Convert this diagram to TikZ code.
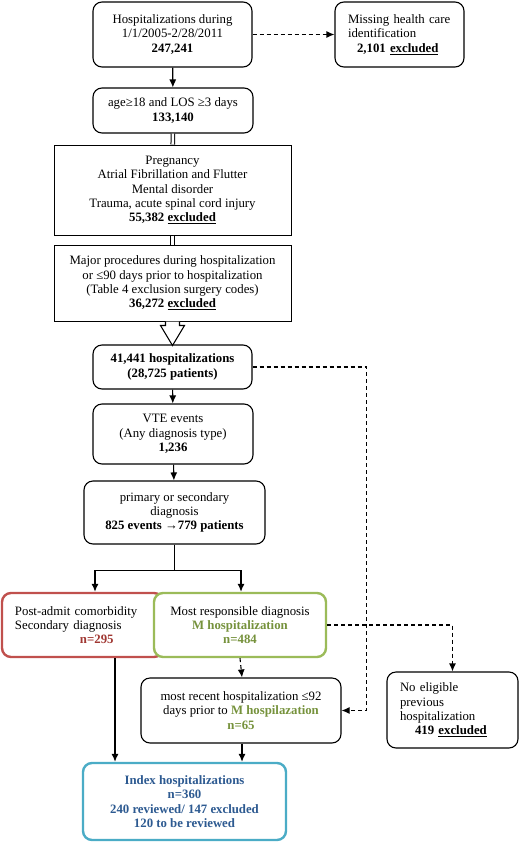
\documentclass[tikz,border=0pt]{standalone}
\usepackage{fontspec}
\setmainfont{Liberation Serif}
\usetikzlibrary{arrows.meta}
\definecolor{boxred}{RGB}{192,80,77}
\definecolor{textred}{RGB}{160,55,50}
\definecolor{boxgreen}{RGB}{155,187,89}
\definecolor{textgreen}{RGB}{118,146,60}
\definecolor{boxblue}{RGB}{75,172,198}
\definecolor{textblue}{RGB}{45,90,145}
\newcommand{\excl}{\underline{\textbf{excluded}}}

\begin{document}
\begin{tikzpicture}[x=1pt,y=-1pt,font=\fontsize{12.8}{14.3}\selectfont,
	box/.style={draw,line width=1.1pt,rounded corners=9pt,align=center,inner sep=0pt},
	sharpbox/.style={draw,line width=1pt,align=center,inner sep=0pt},
	colbox/.style={box,line width=2.4pt,fill=white},
	arr/.style={line width=1.1pt,-{Latex[length=8pt,width=7pt]}},
	dasharr/.style={arr,dash pattern=on 4pt off 3pt},
	twin/.style={line width=1pt,double,double distance=2.6pt}]
	\useasboundingbox (0,0) rectangle (520,844);
	\node[box,minimum width=159pt,minimum height=65pt] (hosp) at (172.5,34.5) {Hospitalizations during\\1/1/2005-2/28/2011\\\textbf{247,241}};
	\node[box,minimum width=129pt,minimum height=65pt,text width=103pt,align=left] (missing) at (399.5,34.5) {Missing health care\\identification\\\hspace*{9pt}\textbf{2,101} \excl};
	\node[box,minimum width=160pt,minimum height=45pt] (age) at (173,110.5) {age≥18 and LOS ≥3 days\\\textbf{133,140}};
	\node[sharpbox,minimum width=237pt,minimum height=90pt] (preg) at (172.5,190) {Pregnancy\\Atrial Fibrillation and Flutter\\Mental disorder\\Trauma, acute spinal cord injury\\\textbf{55,382} \excl};
	\node[sharpbox,minimum width=237pt,minimum height=76pt] (major) at (172.5,283) {Major procedures during hospitalization\\or ≤90 days prior to hospitalization\\(Table 4 exclusion surgery codes)\\\textbf{36,272} \excl};
	\node[box,minimum width=159pt,minimum height=44pt,font=\fontsize{12.8}{14.3}\selectfont\bfseries] (total) at (172.5,367) {41,441 hospitalizations\\(28,725 patients)};
	\node[box,minimum width=160pt,minimum height=60pt] (vte) at (173,434) {VTE events\\(Any diagnosis type)\\\textbf{1,236}};
	\node[box,minimum width=181pt,minimum height=63pt] (prim) at (174.5,512.5) {primary or secondary\\diagnosis\\\textbf{825 events →779 patients}};
	\node[colbox,draw=boxred,minimum width=161pt,minimum height=64pt,text width=135pt,align=left] (post) at (82.5,625) {Post-admit comorbidity\\Secondary diagnosis\\\hspace*{65pt}\textcolor{textred}{\textbf{n=295}}};
	\node[colbox,draw=boxgreen,minimum width=172pt,minimum height=64pt] (resp) at (240,625) {Most responsible diagnosis\\\textcolor{textgreen}{\textbf{M hospitalization}}\\\textcolor{textgreen}{\textbf{n=484}}};
	\node[box,minimum width=200pt,minimum height=65pt] (recent) at (241,710.5) {most recent hospitalization ≤92\\days prior to \textcolor{textgreen}{\textbf{M hospilazation}}\\\textcolor{textgreen}{\textbf{n=65}}};
	\node[box,minimum width=131pt,minimum height=76pt,text width=105pt,align=left] (noelig) at (452.5,710) {No eligible\\previous\\hospitalization\\\hspace*{15pt}\textbf{419} \excl};
	\node[colbox,draw=boxblue,minimum width=203pt,minimum height=77pt,font=\fontsize{12.8}{14.3}\selectfont\bfseries\color{textblue}] (index) at (184.5,801.5) {Index hospitalizations\\n=360\\240 reviewed/ 147 excluded\\120 to be reviewed};
	\draw[dasharr] (hosp.east) -- (missing.west);
	\draw[arr] (hosp) -- (age);
	\draw[twin] (age) -- (preg);
	\draw[twin] (preg) -- (major);
	\draw[line width=1.1pt,fill=white,shift={(major.south)}] (-7,0) -- (-7,4) -- (-12,4) -- (0,24) -- (12,4) -- (7,4) -- (7,0);
	\draw[arr] (total) -- (vte);
	\draw[arr] (vte) -- (prim);
	\draw[arr] (prim.south) -- ++(0,26) -| ([xshift=12.5pt]post.north);
	\draw[arr] (prim.south) -- ++(0,26) -| ([xshift=1pt]resp.north);
	\draw[dasharr] (total.east) -- ++(114,0) |- (recent.east);
	\draw[dasharr] (resp.east) -| (noelig.north);
	\draw[dasharr] (resp.south) -- ([xshift=1pt]recent.north);
	\draw[arr] ([xshift=32.5pt]post.south) -- ([xshift=32.5pt]post.south |- index.north);
	\draw[arr] ([xshift=1pt]recent.south) -- ([xshift=1pt]recent.south |- index.north);
\end{tikzpicture}
\end{document}
